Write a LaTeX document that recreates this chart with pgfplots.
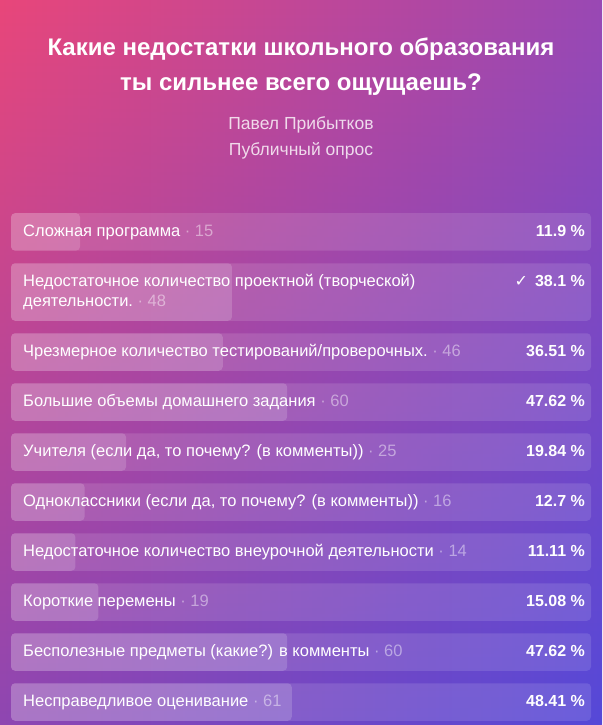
\documentclass[border=0pt]{standalone}
\usepackage{pgfplots}
\pgfplotsset{compat=1.18}
\usetikzlibrary{fadings}
\usepackage{fontspec}
\setmainfont{Liberation Sans}
\newfontfamily\symfont{DejaVu Sans}
\definecolor{bgTL}{RGB}{233,70,122}
\definecolor{bgTR}{RGB}{154,72,180}
\definecolor{bgBL}{RGB}{142,70,178}
\definecolor{bgBR}{RGB}{85,72,216}
\tikzfading[name=fadeup, top color=transparent!100, bottom color=transparent!0]
\newcommand{\cnt}[1]{{\pgfsetfillopacity{0.45}\ \textperiodcentered\ #1}}
\tikzset{
  lab/.style={anchor=base west, inner sep=0pt, text=white, font=\fontsize{16.5}{19}\selectfont},
  pct/.style={anchor=base east, inner sep=0pt, text=white, font=\bfseries\fontsize{16}{19}\selectfont}}
\begin{document}
\begin{tikzpicture}
\shade[left color=bgTL, right color=bgTR] (0,0) rectangle (602pt,725pt);
\shade[left color=bgBL, right color=bgBR, path fading=fadeup] (0,0) rectangle (602pt,725pt);
\begin{axis}[at={(0,0)}, anchor=south west, scale only axis, width=602pt, height=725pt,
  xmin=-1.8966, xmax=101.8966, ymin=0, ymax=725, y dir=reverse, hide axis, clip=false,
  xbar, bar shift=0pt]
% tracks (100 %)
\addplot[fill=white, fill opacity=0.12, draw=none, rounded corners=4pt, bar width=37.5]
  coordinates {(100,231.9) (100,352) (100,402) (100,452) (100,502) (100,552) (100,602) (100,652) (100,702)};
\addplot[fill=white, fill opacity=0.12, draw=none, rounded corners=4pt, bar width=57.5]
  coordinates {(100,292)};
% shares
\addplot[fill=white, fill opacity=0.16, draw=none, rounded corners=4pt, bar width=37.5]
  coordinates {(11.9,231.9) (36.51,352) (47.62,402) (19.84,452) (12.7,502) (11.11,552) (15.08,602) (47.62,652) (48.41,702)};
\addplot[fill=white, fill opacity=0.16, draw=none, rounded corners=4pt, bar width=57.5]
  coordinates {(38.1,292)};
% title
\node[anchor=base, inner sep=0pt, text=white, font=\bfseries\fontsize{24}{28}\selectfont] at (axis cs:50,56) {Какие недостатки школьного образования};
\node[anchor=base, inner sep=0pt, text=white, font=\bfseries\fontsize{24}{28}\selectfont] at (axis cs:50,90) {ты сильнее всего ощущаешь?};
\node[anchor=base, inner sep=0pt, text=white, text opacity=0.8, font=\fontsize{17.5}{20}\selectfont] at (axis cs:50,129) {Павел Прибытков};
\node[anchor=base, inner sep=0pt, text=white, text opacity=0.8, font=\fontsize{17.5}{20}\selectfont] at (axis cs:50,155.5) {Публичный опрос};
% labels
\node[lab] at (axis cs:2.07,236.5) {Сложная программа\cnt{15}};
\node[lab] at (axis cs:2.07,286.5) {Недостаточное количество проектной (творческой)};
\node[lab] at (axis cs:2.07,306.2) {деятельности.\cnt{48}};
\node[lab] at (axis cs:2.07,356.8) {Чрезмерное количество тестирований/проверочных.\cnt{46}};
\node[lab] at (axis cs:2.07,406.8) {Большие объемы домашнего задания\cnt{60}};
\node[lab] at (axis cs:2.07,456.8) {Учителя (если да, то почему? (в комменты))\cnt{25}};
\node[lab] at (axis cs:2.07,506.8) {Одноклассники (если да, то почему? (в комменты))\cnt{16}};
\node[lab] at (axis cs:2.07,556.8) {Недостаточное количество внеурочной деятельности\cnt{14}};
\node[lab] at (axis cs:2.07,606.8) {Короткие перемены\cnt{19}};
\node[lab] at (axis cs:2.07,656.8) {Бесполезные предметы (какие?) в комменты\cnt{60}};
\node[lab] at (axis cs:2.07,706.8) {Несправедливое оценивание\cnt{61}};
% percentages
\node[pct] at (axis cs:98.97,236.5) {11.9 \%};
\node[pct] at (axis cs:98.97,286.5) {{\mdseries\symfont ✓}\hspace{7pt}38.1 \%};
\node[pct] at (axis cs:98.97,356.8) {36.51 \%};
\node[pct] at (axis cs:98.97,406.8) {47.62 \%};
\node[pct] at (axis cs:98.97,456.8) {19.84 \%};
\node[pct] at (axis cs:98.97,506.8) {12.7 \%};
\node[pct] at (axis cs:98.97,556.8) {11.11 \%};
\node[pct] at (axis cs:98.97,606.8) {15.08 \%};
\node[pct] at (axis cs:98.97,656.8) {47.62 \%};
\node[pct] at (axis cs:98.97,706.8) {48.41 \%};
\end{axis}
\end{tikzpicture}
\end{document}
